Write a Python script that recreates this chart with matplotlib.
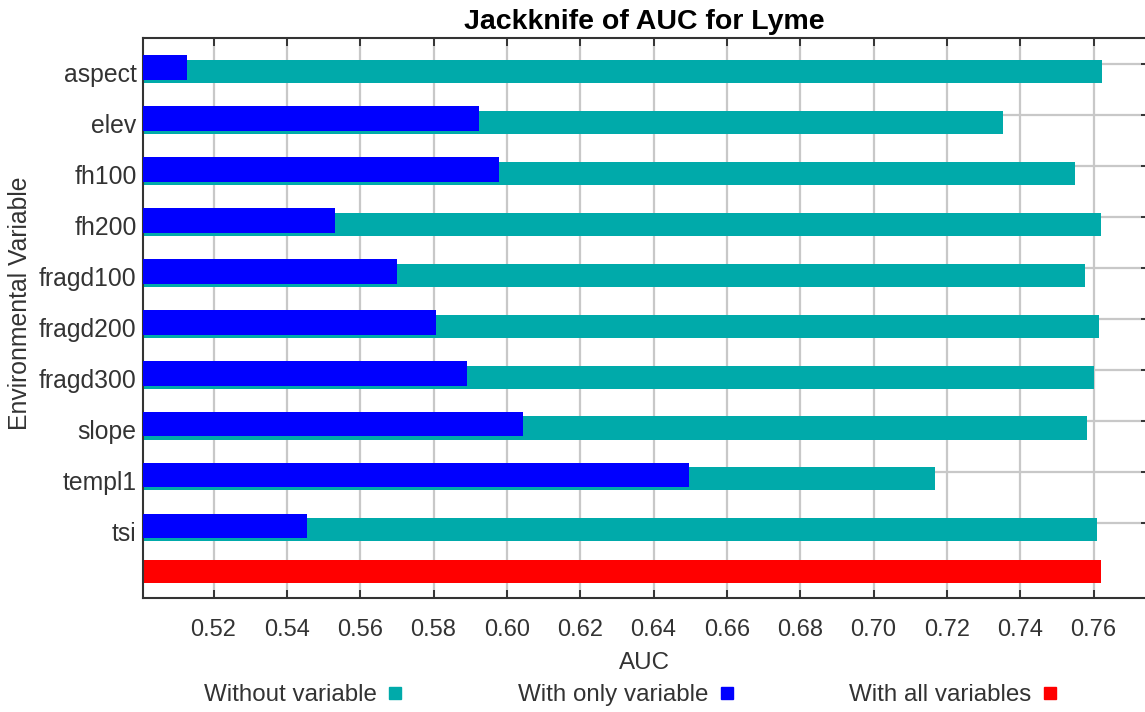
import numpy as np
import matplotlib.pyplot as plt
from matplotlib.lines import Line2D
from matplotlib.transforms import ScaledTranslation


variables = ['aspect', 'elev', 'fh100', 'fh200', 'fragd100', 'fragd200',
			 'fragd300', 'slope', 'templ1', 'tsi']
auc_without = [0.7624, 0.7352, 0.7549, 0.7620, 0.7576, 0.7614, 0.7602, 0.7581, 0.7167, 0.7608]
auc_only = [0.5127, 0.5924, 0.5978, 0.5531, 0.5699, 0.5808, 0.5890, 0.6043, 0.6496, 0.5454]
auc_all = 0.7619

x_ticks = np.arange(0.52, 0.7601, 0.02)
x_min, x_max = 0.5009, 0.7740

TEAL = '#00AAAA'
BLUE = '#0000FF'
RED = '#FF0000'
TEXT = '#333333'


def plot_jackknife():
	plt.rcParams['font.family'] = ['Liberation Sans', 'DejaVu Sans']
	fig = plt.figure(figsize=(11.45, 7.12), dpi=100)
	ax = fig.add_axes([0.1253, 0.1597, 0.8747, 0.7865])

	pos = np.arange(len(variables))
	ax.barh(pos + 0.141, np.array(auc_without) - x_min, left=x_min, height=0.452,
			color=TEAL, zorder=2)
	ax.barh(pos + 0.067, np.array(auc_only) - x_min, left=x_min, height=0.481,
			color=BLUE, zorder=3)
	ax.barh([len(variables) - 0.037], [auc_all - x_min], left=x_min, height=0.457,
			color=RED, zorder=2)

	ax.set_xlim(x_min, x_max)
	ax.set_ylim(len(variables) + 0.485, -0.511)
	ax.set_xticks(x_ticks)
	ax.set_xticklabels([f'{t:.2f}' for t in x_ticks])
	ax.set_yticks(pos)
	ax.set_yticklabels(variables)

	ax.grid(True, color='#c8c8c8', linewidth=1.6, zorder=0)
	ax.set_axisbelow(True)

	for side in ['left', 'top', 'bottom']:
		ax.spines[side].set_color('#333333')
		ax.spines[side].set_linewidth(1.5)
	ax.spines['right'].set_visible(False)

	ax.tick_params(axis='x', which='both', direction='in', top=True, bottom=True,
				   length=6, width=1.4, color='#333333', labelsize=17,
				   labelcolor=TEXT, pad=15)
	ax.tick_params(axis='y', direction='in', left=False, right=True, length=3,
				   width=1.4, color='#333333', labelsize=17.8, labelcolor=TEXT, pad=5)

	# category names sit a little below the grid line, level with the bars
	shift = ScaledTranslation(0, -6 / 72, fig.dpi_scale_trans)
	for lbl in ax.get_yticklabels():
		lbl.set_transform(lbl.get_transform() + shift)

	ax.set_title('Jackknife of AUC for Lyme', fontsize=20.5, fontweight='bold',
				 color='black', pad=7)
	ax.set_xlabel('AUC', fontsize=17.4, color=TEXT, va='center')
	ax.xaxis.set_label_coords(0.5, -0.115)
	ax.set_ylabel('Environmental Variable', fontsize=17.8, color=TEXT, va='center')
	ax.yaxis.set_label_coords(-0.1233, 0.527)

	handles = [
		Line2D([], [], marker='s', linestyle='none', markersize=8, color=TEAL),
		Line2D([], [], marker='s', linestyle='none', markersize=8, color=BLUE),
		Line2D([], [], marker='s', linestyle='none', markersize=8, color=RED),
	]
	labels = ['Without variable', 'With only variable', 'With all variables']
	leg = fig.legend(handles, labels, loc='center', bbox_to_anchor=(0.5502, 1 - 695 / 712),
					 ncol=3, frameon=False, markerfirst=False, fontsize=17.4,
					 handlelength=0.5, handletextpad=0.54, columnspacing=4.8,
					 borderpad=0.2)
	for t in leg.get_texts():
		t.set_color(TEXT)

	fig.savefig('out.png', dpi=100)


if __name__ == '__main__':
	plot_jackknife()
